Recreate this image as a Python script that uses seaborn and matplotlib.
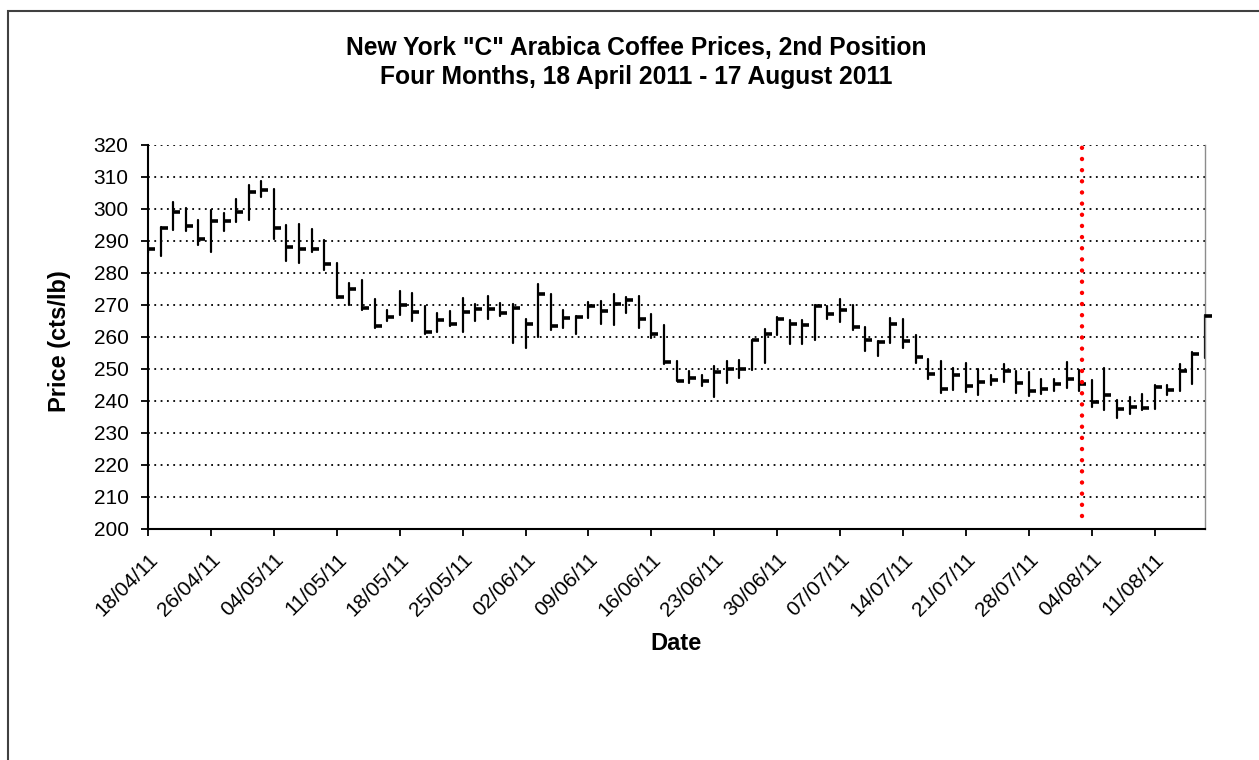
import pandas as pd
import matplotlib.pyplot as plt
import seaborn as sns
from matplotlib.patches import Rectangle
from matplotlib.transforms import ScaledTranslation

# trading days (category axis, one label every 5 days)
dates = ['18/04/11', '19/04/11', '20/04/11', '21/04/11', '25/04/11', '26/04/11', '27/04/11', '28/04/11',
         '02/05/11', '03/05/11', '04/05/11', '05/05/11', '06/05/11', '09/05/11', '10/05/11', '11/05/11',
         '12/05/11', '13/05/11', '16/05/11', '17/05/11', '18/05/11', '19/05/11', '20/05/11', '23/05/11',
         '24/05/11', '25/05/11', '26/05/11', '27/05/11', '31/05/11', '01/06/11', '02/06/11', '03/06/11',
         '06/06/11', '07/06/11', '08/06/11', '09/06/11', '10/06/11', '13/06/11', '14/06/11', '15/06/11',
         '16/06/11', '17/06/11', '20/06/11', '21/06/11', '22/06/11', '23/06/11', '24/06/11', '27/06/11',
         '28/06/11', '29/06/11', '30/06/11', '01/07/11', '04/07/11', '05/07/11', '06/07/11', '07/07/11',
         '08/07/11', '11/07/11', '12/07/11', '13/07/11', '14/07/11', '15/07/11', '18/07/11', '19/07/11',
         '20/07/11', '21/07/11', '22/07/11', '25/07/11', '26/07/11', '27/07/11', '28/07/11', '29/07/11',
         '01/08/11', '02/08/11', '03/08/11', '04/08/11', '05/08/11', '08/08/11', '09/08/11', '10/08/11',
         '11/08/11', '12/08/11', '15/08/11', '16/08/11', '17/08/11']

high = [289.5, 294.4, 302.2, 300.4, 296.7, 299.6, 298.8, 303.2, 307.4, 308.8,
        306.4, 294.9, 295.2, 293.9, 290.2, 283.2, 277.0, 277.7, 271.8, 268.3,
        274.4, 273.9, 269.7, 267.6, 268.1, 272.1, 270.2, 272.8, 270.7, 270.2,
        265.5, 276.6, 273.3, 268.3, 266.5, 271.0, 271.4, 273.3, 272.4, 272.7,
        267.3, 263.9, 252.6, 249.5, 248.0, 251.0, 252.4, 252.9, 259.2, 262.6,
        266.2, 265.2, 265.2, 270.1, 269.8, 271.8, 270.1, 263.1, 258.6, 266.0,
        265.5, 260.7, 253.0, 252.6, 250.2, 251.8, 249.9, 248.1, 251.6, 249.5,
        249.2, 247.0, 247.0, 252.2, 249.6, 246.5, 250.4, 240.4, 241.3, 242.1,
        244.9, 244.9, 251.7, 255.3, 266.8]
low = [286.3, 285.2, 293.5, 293.1, 288.6, 286.6, 293.1, 296.0, 296.5, 303.8,
       290.7, 283.8, 283.1, 286.6, 281.0, 272.1, 270.0, 268.3, 262.7, 265.0,
       266.9, 265.0, 261.0, 261.7, 263.4, 261.7, 265.0, 265.5, 266.6, 258.2,
       256.7, 260.0, 262.1, 262.7, 261.0, 266.0, 264.1, 263.7, 267.6, 262.7,
       259.8, 251.7, 246.1, 245.6, 244.6, 241.1, 245.5, 247.2, 249.8, 251.8,
       260.6, 257.8, 257.8, 259.0, 265.7, 264.7, 262.3, 255.7, 254.1, 258.1,
       256.5, 252.0, 247.0, 242.5, 243.4, 242.8, 241.8, 245.0, 246.0, 242.5,
       241.5, 242.3, 243.1, 244.2, 243.1, 238.1, 237.1, 234.8, 236.0, 237.3,
       237.6, 241.8, 243.1, 245.4, 253.5]
close = [287.6, 294.0, 299.2, 294.6, 290.7, 296.3, 296.3, 299.2, 305.2, 306.0,
         294.2, 288.1, 287.4, 287.4, 282.7, 272.6, 274.9, 269.2, 263.4, 266.3,
         270.0, 267.9, 261.7, 265.2, 264.2, 267.9, 268.6, 268.6, 267.6, 269.1,
         264.1, 273.5, 263.4, 265.8, 266.2, 269.6, 268.1, 270.2, 271.7, 265.5,
         261.0, 252.3, 246.3, 247.2, 246.1, 249.0, 250.1, 250.1, 259.0, 260.9,
         265.7, 264.2, 263.6, 269.8, 267.2, 268.5, 263.1, 259.1, 258.3, 264.2,
         258.6, 253.7, 248.4, 243.6, 248.1, 244.6, 246.0, 246.7, 249.5, 245.7,
         243.2, 243.6, 245.2, 247.0, 245.2, 239.7, 241.8, 237.6, 238.1, 237.9,
         244.4, 243.5, 249.4, 254.8, 266.6]

yticks = list(range(200, 321, 10))
marker_day = 74.2          # red dotted line, just before 04/08
marker_span = [204, 320]

df = pd.DataFrame({'day': range(len(dates)), 'high': high, 'low': low, 'close': close})
hl = df.melt(id_vars='day', value_vars=['high', 'low'], value_name='price')
mark = pd.DataFrame({'day': [marker_day] * 2, 'price': marker_span})

sns.set_theme(style='ticks')
plt.rcParams['font.family'] = ['Liberation Sans', 'DejaVu Sans']
plt.rcParams['text.color'] = 'black'
plt.rcParams['axes.labelcolor'] = 'black'

fig, ax = plt.subplots(figsize=(12.59, 7.6), dpi=100)
fig.subplots_adjust(left=148 / 1259, right=1205 / 1259, top=1 - 145 / 760, bottom=1 - 529 / 760)

# high-low bars
sns.lineplot(data=hl, x='day', y='price', units='day', estimator=None,
             color='black', linewidth=1.6, ax=ax, legend=False)
# close ticks on the right
sns.scatterplot(data=df, x='day', y='close', marker=1, s=22, linewidth=2.6,
                color='black', ax=ax, legend=False, clip_on=False, zorder=3)
# red dotted marker
sns.lineplot(data=mark, x='day', y='price', estimator=None, sort=False, color='red',
             linewidth=3.2, linestyle=(0, (0.01, 2.5)), dash_capstyle='round', ax=ax, zorder=4)

ax.set_xlim(0, len(dates) - 1)
ax.set_ylim(200, 320)
ax.set_yticks(yticks)
ax.set_xticks(range(0, len(dates), 5))
ax.set_xticklabels(dates[::5], rotation=45, ha='right', va='top', rotation_mode='anchor')
for lab in ax.get_xticklabels():
    lab.set_transform(lab.get_transform() + ScaledTranslation(-2 / 72, 0, fig.dpi_scale_trans))

ax.yaxis.grid(True, color='black', linestyle=(0, (1, 2.5)), linewidth=1.3)
ax.tick_params(axis='both', direction='out', length=5, width=1.3, colors='black', labelsize=15)
ax.tick_params(axis='y', pad=9)
ax.tick_params(axis='x', pad=10)

for s in ['left', 'bottom']:
    ax.spines[s].set_color('black')
    ax.spines[s].set_linewidth(1.5)
ax.spines['top'].set_visible(False)
ax.spines['right'].set_visible(True)
ax.spines['right'].set_color('#8c8c8c')
ax.spines['right'].set_linewidth(1.0)
ax.spines['right'].set_linestyle((0, (3, 1)))

ax.set_xlabel('Date', fontsize=17, fontweight='bold', va='center')
ax.xaxis.set_label_coords(0.5, (529 - 643) / 384)
ax.set_ylabel('Price (cts/lb)', fontsize=17, fontweight='bold', va='center', ha='center')
ax.yaxis.set_label_coords((60 - 148) / 1057, (529 - 341.5) / 384)

fig.text(636 / 1259, 1 - 62.5 / 760,
         'New York "C" Arabica Coffee Prices, 2nd Position\nFour Months, 18 April 2011 - 17 August 2011',
         ha='center', va='center', fontsize=17.7, fontweight='bold', linespacing=1.3)

# chart area border
fig.add_artist(Rectangle((8 / 1259, -0.1), 1.2, 1 - 10.5 / 760 + 0.1, transform=fig.transFigure,
                         fill=False, edgecolor='#404040', linewidth=1.5))

fig.savefig('out.png', dpi=100)
